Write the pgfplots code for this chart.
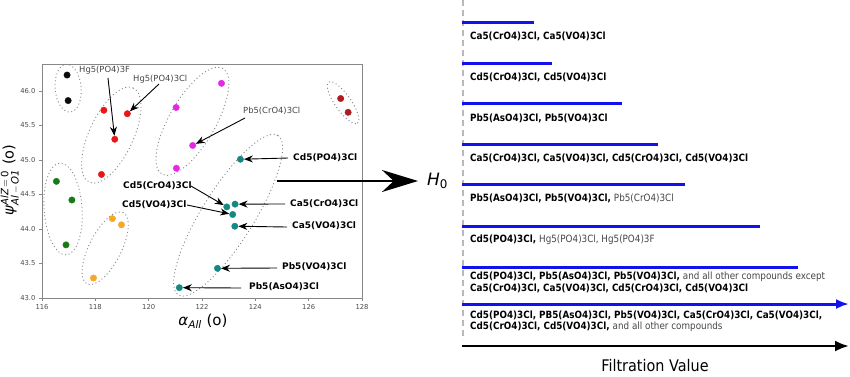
\documentclass[border=0pt]{standalone}
\usepackage{amsmath}
\usepackage{pgfplots}
\pgfplotsset{compat=1.18}
\usepackage{fontspec}
\setmainfont{DejaVu Sans}
\newfontfamily\rfont{DejaVu Sans}[FakeStretch=0.88]
\newfontfamily\ffont{DejaVu Sans}[FakeStretch=0.9]
\usetikzlibrary{arrows.meta}
\definecolor{cblack}{RGB}{10,10,10}
\definecolor{cred}{RGB}{232,22,22}
\definecolor{cmag}{RGB}{228,40,228}
\definecolor{cteal}{RGB}{22,136,132}
\definecolor{cgreen}{RGB}{22,122,22}
\definecolor{corange}{RGB}{245,168,38}
\definecolor{cdred}{RGB}{172,28,34}
\definecolor{cblue}{RGB}{18,18,238}
\definecolor{framec}{RGB}{135,135,135}
\definecolor{ticklab}{RGB}{75,75,75}
\definecolor{normtxt}{RGB}{70,70,70}
\newcommand{\sfn}{\fontsize{8.4}{10}\selectfont}
\newcommand{\sfb}{\fontsize{9}{10}\selectfont\bfseries}
\newcommand{\rfn}{\rfont\fontsize{10}{11}\selectfont}
\begin{document}
\begin{tikzpicture}
\useasboundingbox (0pt,0pt) rectangle (850pt,-376pt);
% ---------------- scatter panel ----------------
\begin{axis}[
  name=sc, at={(42pt,-298pt)}, anchor=south west, scale only axis,
  width=320pt, height=234pt,
  xmin=116, xmax=128, ymin=43, ymax=46.39,
  xtick={116,118,120,122,124,126,128},
  ytick={43,43.5,44,44.5,45,45.5,46},
  yticklabel style={/pgf/number format/fixed,/pgf/number format/precision=1,/pgf/number format/fixed zerofill},
  tick align=outside, tick pos=left,
  major tick length=3pt,
  axis line style={framec, line width=0.9pt},
  every tick/.style={framec, line width=0.8pt},
  ticklabel style={font=\fontsize{6.8}{8}\selectfont, text=ticklab},
  /pgf/number format/assume math mode=true,
  clip=false,
]
% grouping ellipses
\begin{scope}[framec, line width=0.9pt, dash pattern=on 1pt off 2.6pt]
\draw[rotate around={5:(axis cs:116.98,46.04)}] (axis cs:116.98,46.04) ellipse [x radius=13pt, y radius=24pt];
\draw[rotate around={65:(axis cs:118.60,45.36)}] (axis cs:118.60,45.36) ellipse [x radius=52pt, y radius=22pt];
\draw[rotate around={60:(axis cs:121.64,45.56)}] (axis cs:121.64,45.56) ellipse [x radius=61pt, y radius=23pt];
\draw[rotate around={58:(axis cs:122.98,44.20)}] (axis cs:122.98,44.20) ellipse [x radius=94pt, y radius=26pt];
\draw[rotate around={4:(axis cs:116.79,44.29)}] (axis cs:116.79,44.29) ellipse [x radius=19pt, y radius=46pt];
\draw[rotate around={63:(axis cs:118.37,43.72)}] (axis cs:118.37,43.72) ellipse [x radius=40pt, y radius=16pt];
\draw[rotate around={-55:(axis cs:127.29,45.83)}] (axis cs:127.29,45.83) ellipse [x radius=25pt, y radius=8pt];
\end{scope}
\addplot[only marks, mark=*, mark size=3.2pt, color=cblack] coordinates {(116.94,46.23) (116.98,45.86)};
\addplot[only marks, mark=*, mark size=3.2pt, color=cred] coordinates {(118.32,45.72) (119.20,45.67) (118.73,45.30) (118.23,44.79)};
\addplot[only marks, mark=*, mark size=3.2pt, color=cmag] coordinates {(121.03,45.76) (122.73,46.11) (121.65,45.21) (121.04,44.88)};
\addplot[only marks, mark=*, mark size=3.2pt, color=cteal] coordinates {(123.44,45.01) (122.93,44.32) (123.24,44.36) (123.15,44.21) (123.23,44.04) (122.58,43.43) (121.15,43.15)};
\addplot[only marks, mark=*, mark size=3.2pt, color=cgreen] coordinates {(116.54,44.69) (117.12,44.42) (116.90,43.77)};
\addplot[only marks, mark=*, mark size=3.2pt, color=corange] coordinates {(118.64,44.15) (118.98,44.06) (117.93,43.29)};
\addplot[only marks, mark=*, mark size=3.2pt, color=cdred] coordinates {(127.20,45.89) (127.48,45.69)};
\coordinate (hgF) at (axis cs:118.73,45.30);
\coordinate (hgCl) at (axis cs:119.20,45.67);
\coordinate (pbCr) at (axis cs:121.65,45.21);
\coordinate (cdP) at (axis cs:123.44,45.01);
\coordinate (cdCr) at (axis cs:122.93,44.32);
\coordinate (cdV) at (axis cs:123.15,44.21);
\coordinate (caCr) at (axis cs:123.24,44.36);
\coordinate (caV) at (axis cs:123.23,44.04);
\coordinate (pbV) at (axis cs:122.58,43.43);
\coordinate (pbAs) at (axis cs:121.15,43.15);
\end{axis}
% axis labels
\node[rotate=90, inner sep=0pt] at (10pt,-180pt) {\fontsize{14.5}{16}\selectfont\textit{ψ}$^{\text{\itshape AlZ}\,=\,\text{0}}_{\text{\itshape Al}\,-\,\text{\itshape O1}}$ (o)};
\node[inner sep=0pt] at (203pt,-321pt) {\fontsize{15}{17}\selectfont\textit{α}\textsubscript{\textit{All}} (o)};
% annotation arrows
\begin{scope}[line width=0.9pt, -{Stealth[length=9pt,width=7pt]}, shorten >=3.5pt]
\draw (108pt,-78pt) -- (hgF);
\draw (159pt,-84pt) -- (hgCl);
\draw (245pt,-118pt) -- (pbCr);
\draw (288pt,-158pt) -- (cdP);
\draw (191pt,-186pt) -- (cdCr);
\draw (187pt,-205pt) -- (cdV);
\draw (285pt,-204pt) -- (caCr);
\draw (287pt,-227pt) -- (caV);
\draw (277pt,-268pt) -- (pbV);
\draw (241pt,-288pt) -- (pbAs);
\end{scope}
\begin{scope}[every node/.style={anchor=west, inner sep=0pt}]
\node[text=normtxt, font=\sfn] at (79pt,-70pt) {Hg5(PO4)3F};
\node[text=normtxt, font=\sfn] at (133pt,-79pt) {Hg5(PO4)3Cl};
\node[text=normtxt, font=\sfn] at (243pt,-111pt) {Pb5(CrO4)3Cl};
\node[font=\sfb] at (293pt,-158pt) {Cd5(PO4)3Cl};
\node[font=\sfb] at (123pt,-186pt) {Cd5(CrO4)3Cl};
\node[font=\sfb] at (122pt,-205pt) {Cd5(VO4)3Cl};
\node[font=\sfb] at (290pt,-204pt) {Ca5(CrO4)3Cl};
\node[font=\sfb] at (292pt,-226pt) {Ca5(VO4)3Cl};
\node[font=\sfb] at (282pt,-267pt) {Pb5(VO4)3Cl};
\node[font=\sfb] at (249pt,-287pt) {Pb5(AsO4)3Cl};
\end{scope}
% big arrow
\draw[line width=2.6pt, -{Stealth[length=36pt,width=22pt]}] (277pt,-181pt) -- (418pt,-181pt);
\node[anchor=west, inner sep=0pt] at (427pt,-181pt) {\fontsize{17}{20}\selectfont\textit{H}\textsubscript{0}};
% ---------------- barcode panel ----------------
\begin{axis}[
  name=bc, at={(463pt,-376pt)}, anchor=south west, scale only axis,
  width=387pt, height=376pt,
  xmin=0, xmax=387, ymin=0, ymax=376, y dir=reverse,
  hide axis, clip=false,
]
\draw[gray!55, line width=1.8pt, dash pattern=on 6pt off 4pt] (axis cs:0,0) -- (axis cs:0,340);
\addplot[cblue, line width=3pt] coordinates {(-1,22) (71,22)};
\addplot[cblue, line width=3pt] coordinates {(-1,63) (89,63)};
\addplot[cblue, line width=3pt] coordinates {(-1,103) (159,103)};
\addplot[cblue, line width=3pt] coordinates {(-1,144) (195,144)};
\addplot[cblue, line width=3pt] coordinates {(-1,184) (222,184)};
\addplot[cblue, line width=3pt] coordinates {(-1,226) (297,226)};
\addplot[cblue, line width=3pt] coordinates {(-1,267) (335,267)};
\addplot[cblue, line width=3pt, -{Latex[length=13pt,width=10pt]}] coordinates {(-1,304) (386,304)};
\addplot[black, line width=2.6pt, -{Latex[length=14pt,width=11pt]}] coordinates {(-1,346) (386,346)};
\begin{scope}[every node/.style={anchor=west, inner sep=0pt, font=\rfn}]
\node at (axis cs:7,36) {\bfseries Ca5(CrO4)3Cl, Ca5(VO4)3Cl};
\node at (axis cs:7,77) {\bfseries Cd5(CrO4)3Cl, Cd5(VO4)3Cl};
\node at (axis cs:7,118) {\bfseries Pb5(AsO4)3Cl, Pb5(VO4)3Cl};
\node at (axis cs:7,158) {\bfseries Ca5(CrO4)3Cl, Ca5(VO4)3Cl, Cd5(CrO4)3Cl, Cd5(VO4)3Cl};
\node at (axis cs:7,198) {\bfseries Pb5(AsO4)3Cl, Pb5(VO4)3Cl, \mdseries\color{normtxt}Pb5(CrO4)3Cl};
\node at (axis cs:7,240) {\bfseries Cd5(PO4)3Cl, \mdseries\color{normtxt}Hg5(PO4)3Cl, Hg5(PO4)3F};
\node at (axis cs:7,277) {\bfseries Cd5(PO4)3Cl, Pb5(AsO4)3Cl, Pb5(VO4)3Cl, \mdseries\color{normtxt}and all other compounds except};
\node at (axis cs:7,288.5) {\bfseries Ca5(CrO4)3Cl, Ca5(VO4)3Cl, Cd5(CrO4)3Cl, Cd5(VO4)3Cl};
\node at (axis cs:7,315) {\bfseries Cd5(PO4)3Cl, PB5(AsO4)3Cl, Pb5(VO4)3Cl, Ca5(CrO4)3Cl, Ca5(VO4)3Cl,};
\node at (axis cs:7,326.5) {\bfseries Cd5(CrO4)3Cl, Cd5(VO4)3Cl, \mdseries\color{normtxt}and all other compounds};
\end{scope}
\node[anchor=base, inner sep=0pt] at (axis cs:192,371.5) {\ffont\fontsize{16}{18}\selectfont Filtration Value};
\end{axis}
\end{tikzpicture}
\end{document}
